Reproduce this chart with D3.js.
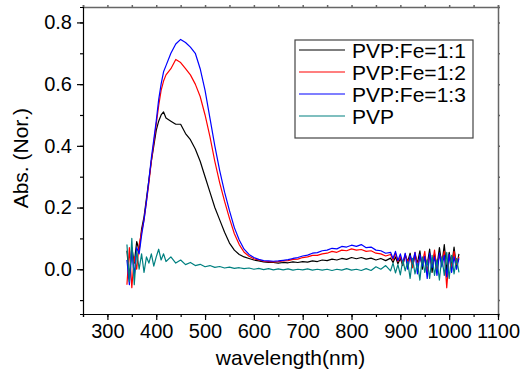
<!DOCTYPE html>
<html>
<head>
<meta charset="utf-8">
<script src="https://cdn.jsdelivr.net/npm/d3@7"></script>
<style>
  body { margin: 0; background: #fff; }
  text { font-family: "Liberation Sans", Arial, sans-serif; fill: #000; }
</style>
</head>
<body>
<div id="chart"></div>
<script>
// wavelength (nm), shared by all spectra
const wavelength = [
  340, 345, 350, 355, 360, 365, 370, 375, 380, 385, 390, 395, 400, 405, 410, 415, 420,
  430, 440, 450, 460, 470, 480, 490, 500, 510, 520, 530, 540, 550, 560, 570, 580, 590,
  600, 610, 620, 630, 640, 650, 660, 670, 680, 690, 700, 710, 720, 730, 740, 750, 760,
  770, 780, 790, 800, 810, 820, 830, 840, 850, 860, 870,
  880, 885, 890, 895, 900, 905, 910, 915, 920, 925, 930, 935, 940, 945, 950, 955, 960,
  965, 970, 975, 980, 985, 990, 995, 1000, 1005, 1010, 1015, 1020
];

const fe11 = [
  0.06, -0.03, 0.07, 0.02, 0.09, 0.06, 0.13, 0.17, 0.23, 0.29, 0.35, 0.40, 0.45, 0.48, 0.50, 0.51, 0.49,
  0.48, 0.47, 0.47, 0.44, 0.42, 0.39, 0.35, 0.30, 0.25, 0.20, 0.16, 0.12, 0.085, 0.062, 0.048, 0.040, 0.035,
  0.030, 0.027, 0.024, 0.022, 0.022, 0.020, 0.022, 0.021, 0.024, 0.022, 0.025, 0.023, 0.027, 0.025, 0.030, 0.028, 0.033,
  0.030, 0.035, 0.032, 0.038, 0.034, 0.038, 0.033, 0.036, 0.030, 0.035, 0.028,
  0.036, 0.022, 0.040, 0.018, 0.035, 0.012, 0.045, 0.025, 0.052, 0.005, 0.048, 0.020, 0.060, 0.000, 0.040, 0.015, 0.065,
  -0.010, 0.050, 0.010, 0.070, 0.015, 0.080, -0.005, 0.055, 0.010, 0.072, 0.005, 0.050
];

const fe12 = [
  -0.05, 0.07, -0.06, 0.04, 0.00, 0.08, 0.12, 0.16, 0.22, 0.28, 0.35, 0.41, 0.47, 0.53, 0.58, 0.61, 0.63,
  0.65, 0.68, 0.67, 0.65, 0.63, 0.60, 0.56, 0.50, 0.43, 0.35, 0.28, 0.22, 0.165, 0.115, 0.080, 0.055, 0.042,
  0.034, 0.030, 0.026, 0.025, 0.024, 0.025, 0.027, 0.028, 0.032, 0.033, 0.038, 0.040, 0.045, 0.045, 0.050, 0.052, 0.058,
  0.055, 0.062, 0.060, 0.066, 0.062, 0.064, 0.058, 0.060, 0.052, 0.050, 0.043,
  0.048, 0.030, 0.052, 0.025, 0.042, 0.015, 0.050, 0.022, 0.040, 0.005, 0.055, 0.015, 0.035, 0.020, 0.058, -0.010, 0.045,
  0.010, 0.062, -0.005, 0.048, 0.020, 0.058, -0.060, 0.045, 0.005, 0.058, 0.015, 0.040
];

const fe13 = [
  0.03, -0.05, 0.06, -0.02, 0.07, 0.05, 0.11, 0.16, 0.22, 0.29, 0.36, 0.42, 0.48, 0.55, 0.60, 0.64, 0.66,
  0.70, 0.73, 0.745, 0.735, 0.72, 0.70, 0.65, 0.58, 0.49, 0.40, 0.32, 0.25, 0.19, 0.135, 0.095, 0.065, 0.048,
  0.038, 0.032, 0.028, 0.027, 0.026, 0.027, 0.029, 0.031, 0.035, 0.038, 0.043, 0.046, 0.052, 0.054, 0.060, 0.062, 0.068,
  0.066, 0.074, 0.072, 0.078, 0.074, 0.080, 0.070, 0.072, 0.062, 0.060, 0.052,
  0.055, 0.035, 0.058, 0.028, 0.050, 0.020, 0.052, 0.000, 0.045, 0.020, 0.055, -0.015, 0.048, 0.010, 0.042, -0.030, 0.052,
  0.005, 0.040, -0.020, 0.052, 0.008, 0.045, -0.025, 0.048, -0.010, 0.040, 0.000, 0.035
];

const pvp = [
  0.08, -0.04, 0.10, -0.05, 0.06, 0.00, 0.05, -0.01, 0.04, 0.02, 0.05, 0.01, 0.04, 0.065, 0.03, 0.05, 0.025,
  0.04, 0.02, 0.03, 0.015, 0.022, 0.012, 0.016, 0.008, 0.012, 0.006, 0.009, 0.004, 0.007, 0.003, 0.005, 0.002, 0.004,
  0.000, 0.003, -0.001, 0.002, -0.002, 0.001, -0.002, 0.001, -0.003, 0.000, -0.002, 0.001, -0.003, 0.000, -0.003, 0.000, -0.004,
  0.000, -0.003, 0.002, -0.003, 0.000, -0.004, 0.002, -0.004, 0.008, 0.000, 0.012,
  -0.005, 0.020, -0.012, 0.015, -0.018, 0.030, -0.005, 0.025, -0.030, 0.035, -0.015, 0.020, -0.035, 0.040, -0.010, 0.030, -0.030,
  0.045, -0.020, 0.030, -0.035, 0.040, -0.020, 0.055, -0.030, 0.045, -0.015, 0.035, -0.010
];

const seriesNames = ['PVP:Fe=1:1', 'PVP:Fe=1:2', 'PVP:Fe=1:3', 'PVP'];
const seriesColors = ['#000000', '#ff0000', '#0000ff', '#008080'];
const seriesValues = [fe11, fe12, fe13, pvp];

const xTicks = [300, 400, 500, 600, 700, 800, 900, 1000, 1100];
const yTicks = [0.0, 0.2, 0.4, 0.6, 0.8];

const width = 521, height = 384;
const margin = { top: 7, right: 23, bottom: 70, left: 83 };
const plotW = width - margin.left - margin.right;
const plotH = height - margin.top - margin.bottom;

const svg = d3.select('#chart').append('svg')
  .attr('width', width)
  .attr('height', height);

const chart = svg.append('g')
  .attr('transform', `translate(${margin.left}, ${margin.top})`);

// scales
const xScale = d3.scaleLinear().domain([250, 1100]).range([0, plotW]);
const yScale = d3.scaleLinear().domain([-0.145, 0.85]).range([plotH, 0]);

// minor tick positions
const xMinor = d3.range(250, 1101, 50);
const yMinor = d3.range(-0.1, 0.81, 0.1);

// spectra
const line = d3.line()
  .x((d, i) => xScale(wavelength[i]))
  .y(d => yScale(d));

seriesValues.forEach((vals, k) => {
  chart.append('path')
    .datum(vals)
    .attr('fill', 'none')
    .attr('stroke', seriesColors[k])
    .attr('stroke-width', 1.2)
    .attr('stroke-linejoin', 'round')
    .attr('d', line);
});

// mirrored top / right frame with small outward ticks
chart.append('g')
  .attr('transform', `translate(${plotW}, 0)`)
  .call(d3.axisRight(yScale).tickValues(yMinor).tickSize(2).tickFormat(''))
  .call(g => g.selectAll('path, line').attr('stroke', '#666').attr('stroke-width', 1.5));
chart.append('g')
  .call(d3.axisTop(xScale).tickValues(xMinor).tickSize(2).tickFormat(''))
  .call(g => g.selectAll('path, line').attr('stroke', '#666').attr('stroke-width', 1.5));

// bottom axis
const xAxis = chart.append('g')
  .attr('transform', `translate(0, ${plotH})`);
xAxis.call(d3.axisBottom(xScale).tickValues(xMinor).tickSize(3).tickFormat(''));
xAxis.append('g')
  .call(d3.axisBottom(xScale).tickValues(xTicks).tickSize(6).tickPadding(4).tickFormat(d3.format('d')))
  .call(g => g.select('.domain').remove());
xAxis.selectAll('path, line').attr('stroke', '#000').attr('stroke-width', 1.2);
xAxis.selectAll('text').attr('font-size', 20).attr('font-family', '"Liberation Sans", Arial, sans-serif');

// left axis
const yAxis = chart.append('g');
yAxis.call(d3.axisLeft(yScale).tickValues(yMinor).tickSize(3).tickFormat(''));
yAxis.append('g')
  .call(d3.axisLeft(yScale).tickValues(yTicks).tickSize(6).tickPadding(5).tickFormat(d3.format('.1f')))
  .call(g => g.select('.domain').remove());
yAxis.selectAll('path, line').attr('stroke', '#000').attr('stroke-width', 1.2);
yAxis.selectAll('text').attr('font-size', 20).attr('font-family', '"Liberation Sans", Arial, sans-serif');

// axis titles
svg.append('text')
  .attr('x', margin.left + xScale(675))
  .attr('y', 365)
  .attr('text-anchor', 'middle')
  .attr('font-size', 21)
  .text('wavelength(nm)');
svg.append('text')
  .attr('transform', `translate(28, ${margin.top + yScale(0.36)}) rotate(-90)`)
  .attr('text-anchor', 'middle')
  .attr('font-size', 21)
  .text('Abs. (Nor.)');

// legend
const legend = svg.append('g').attr('transform', 'translate(295, 40)');
legend.append('rect')
  .attr('width', 178).attr('height', 98)
  .attr('fill', '#fff').attr('stroke', '#444').attr('stroke-width', 1.2);
seriesNames.forEach((name, k) => {
  const y = 10 + k * 22;
  legend.append('line')
    .attr('x1', 4).attr('x2', 50).attr('y1', y).attr('y2', y)
    .attr('stroke', seriesColors[k]).attr('stroke-width', 1.2);
  legend.append('text')
    .attr('x', 57).attr('y', y)
    .attr('dy', '0.36em')
    .attr('font-size', 21)
    .text(name);
});
</script>
</body>
</html>
